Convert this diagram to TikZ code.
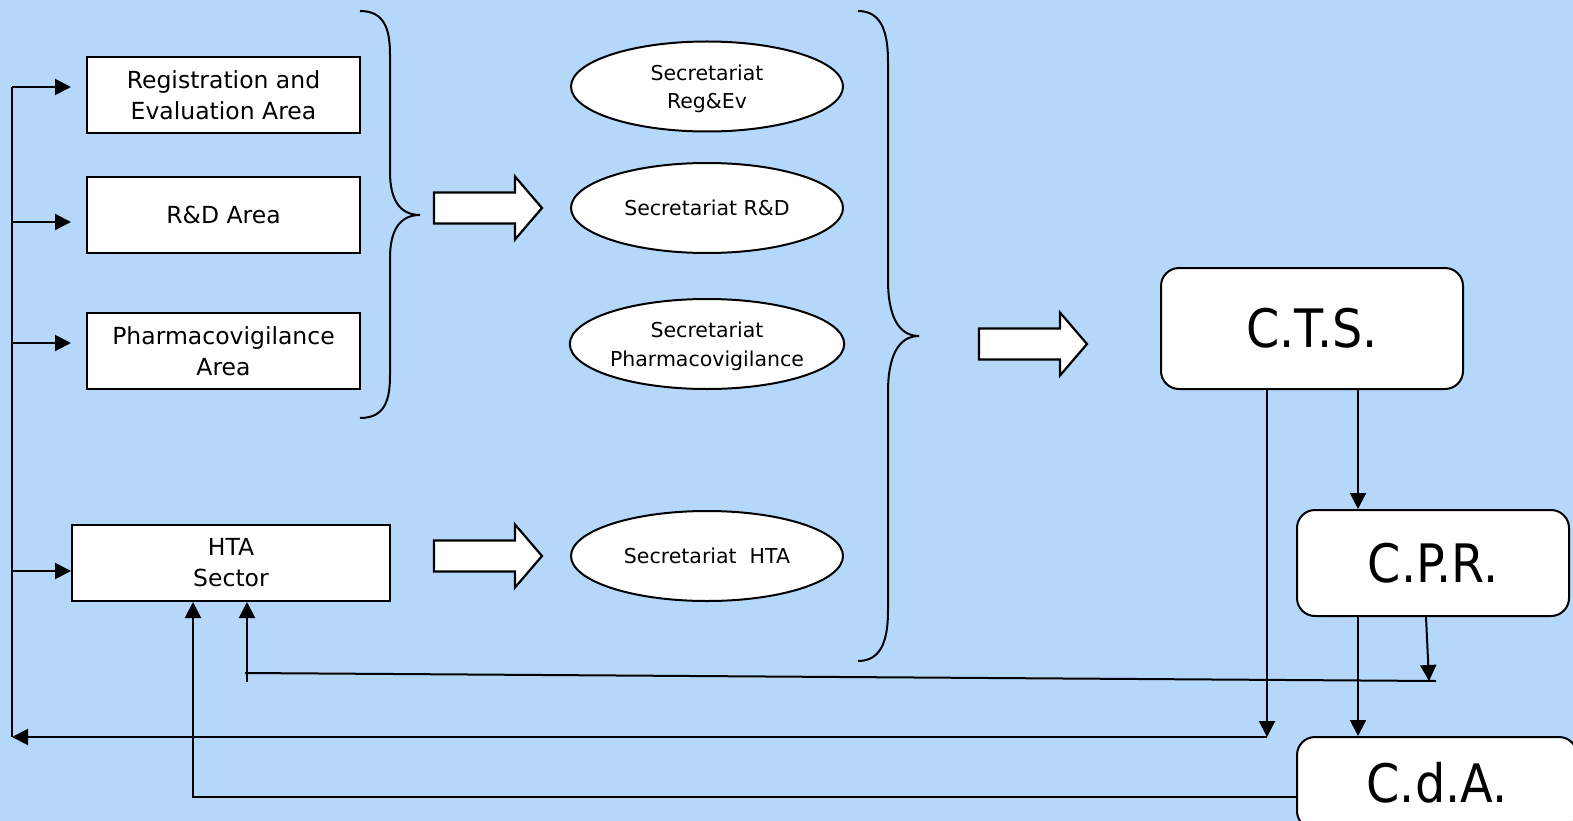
\documentclass[tikz,border=0pt]{standalone}
\usepackage{fontspec}
\setmainfont{DejaVu Sans}
\newfontfamily\commfont{DejaVu Sans Condensed}
\usetikzlibrary{arrows.meta,shapes.geometric}
\definecolor{bgblue}{RGB}{180,215,250}
\tikzset{
  area/.style = {% rectangular boxes on the left
    draw=black, fill=white, line width=2pt,
    minimum width=273pt, minimum height=76pt,
    align=center, font=\fontsize{23.5}{31}\selectfont
  },
  secr/.style = {% the secretariat ellipses
    ellipse, draw=black, fill=white, line width=2pt,
    minimum width=272pt, minimum height=90pt, inner sep=0pt,
    align=center, font=\fontsize{20.5}{28.7}\selectfont
  },
  comm/.style = {% rounded committee boxes
    draw=black, fill=white, line width=2pt, rounded corners=18pt,
    font=\commfont\fontsize{53}{60}\selectfont
  },
  conn/.style = {line width=2pt},
  tri/.style = {conn, -{Triangle[length=16pt,width=16pt]}},
  fatarrow/.style = {draw=black, fill=white, line width=2.2pt, line join=miter},
}

\begin{document}
\begin{tikzpicture}[x=1pt, y=-1pt]
    \useasboundingbox (0,0) rectangle (1573,821);
    \fill[bgblue] (0,0) rectangle (1573,821);
    % areas
    \node[area] (reg) at (223.5,95) {Registration and\\Evaluation Area};
    \node[area] (rnd) at (223.5,215) {R\&D Area};
    \node[area] (pharm) at (223.5,351) {Pharmacovigilance\\Area};
    \node[area, minimum width=318pt] (hta) at (231,563) {HTA\\Sector};
    % secretariats
    \node[secr] (sreg) at (707,86.5) {\strut Secretariat\\Reg\&Ev};
    \node[secr] (srnd) at (707,208) {Secretariat R\&D};
    \node[secr] (sph) at (707,344) {\strut Secretariat\\Pharmacovigilance};
    \node[secr] (shta) at (707,556) {Secretariat\ \ HTA};
    % committees
    \node[comm, minimum width=302pt, minimum height=121pt] (cts) at (1312,328.5) {C.T.S.};
    \node[comm, minimum width=272pt, minimum height=106pt] (cpr) at (1433,563) {C.P.R.};
    \node[comm, minimum width=280pt, minimum height=92pt] (cda) at (1437,783) {C.d.A.};
    % braces
    \draw[conn] (360,11) .. controls (385,11) and (390,30) .. (390,55) -- (390,172)
       .. controls (390,200) and (400,215) .. (420,215)
       .. controls (400,215) and (390,230) .. (390,258) -- (390,375)
       .. controls (390,400) and (385,418) .. (360,418);
    \draw[conn] (858,11) .. controls (883,11) and (888,35) .. (888,62) -- (888,280)
       .. controls (888,315) and (898,336) .. (919,336)
       .. controls (898,336) and (888,357) .. (888,392) -- (888,610)
       .. controls (888,637) and (883,661) .. (858,661);
    % block arrows
    \foreach \ax/\ay in {434/208, 434/556, 979/344}
      \draw[fatarrow] (\ax,\ay) ++(0,-15.5) -- ++(81,0) -- ++(0,-16) -- ++(27,31.5)
         -- ++(-27,31.5) -- ++(0,-16) -- ++(-81,0) -- cycle;
    % left bus
    \coordinate (bustop) at (12,87);
    \coordinate (busbot) at (12,737);
    \draw[conn] (bustop) -- (busbot);
    \foreach \by/\nm in {87/reg, 222/rnd, 343/pharm} {
      \coordinate (tap) at (12,\by);
      \draw[tri, shorten >=15pt] (tap) -- (tap -| \nm.west);
    }
    \coordinate (taph) at (12,571);
    \draw[tri] (taph) -- (taph -| hta.west);
    % committees down
    \coordinate (k1) at (1267,737);
    \draw[tri] (k1 |- cts.south) -- (k1);
    \draw[tri] (k1) -- (busbot);
    \coordinate (c1) at (1358,0);
    \draw[tri] (c1 |- cts.south) -- (c1 |- cpr.north);
    \draw[tri] (c1 |- cpr.south) -- (c1 |- cda.north);
    % feedback to HTA
    \coordinate (f1) at (1429,681);
    \draw[tri] (cpr.south -| 1426,0) -- (f1);
    \coordinate (f2) at (1436,681);
    \coordinate (f3) at (245,673);
    \draw[conn] (f2) -- (f3);
    \coordinate (f4) at (247,682);
    \draw[tri] (f4) -- (f4 |- hta.south);
    \coordinate (g1) at (193,797);
    \draw[tri] (cda.west |- g1) -- (g1) -- (g1 |- hta.south);
\end{tikzpicture}
\end{document}
